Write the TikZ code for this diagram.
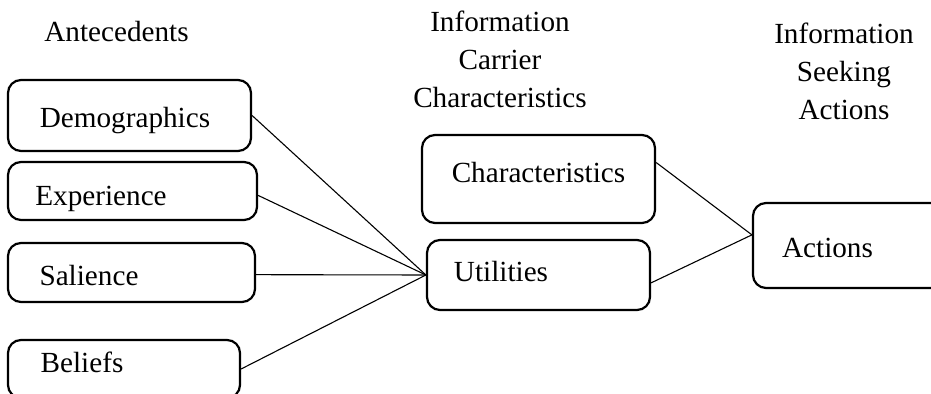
\documentclass[tikz,border=0pt]{standalone}
\usepackage{fontspec}
\setmainfont{Liberation Serif}
\begin{document}
\begin{tikzpicture}[
   x=0.5pt, y=-0.5pt,
   box/.style={draw=black, fill=white, rounded corners=6.5pt, line width=1.1,
               inner sep=0},
   lbl/.style={anchor=base, inner sep=0, font=\fontsize{14.6}{19}\selectfont},
   head/.style={anchor=base, inner sep=0, align=center,
                font=\fontsize{14.6}{19}\selectfont},
   link/.style={draw=black, line width=0.55}
  ]

  % Page size
  \useasboundingbox (0,0) rectangle (931,394);

  % Column headings (base = last line)
  \node (H1) at (116.5, 42) [head] {Antecedents};
  \node (H2) at (500, 108) [head] {Information\\Carrier\\Characteristics};
  \node (H3) at (844, 120) [head] {Information\\Seeking\\Actions};

  % Antecedents
  \node (demo) at (129.5, 115.5) [box, minimum width=121.5pt, minimum height=35.5pt] {};
  \node (exp) at (132.5, 191) [box, minimum width=124.5pt, minimum height=29pt] {};
  \node (sal) at (131.5, 272.5) [box, minimum width=123.5pt, minimum height=29.5pt] {};
  \node (bel) at (124, 369) [box, minimum width=116pt, minimum height=29pt] {};

  % Carrier
  \node (char) at (538.5, 179) [box, minimum width=116.5pt, minimum height=44pt] {};
  \node (util) at (538.5, 275) [box, minimum width=111.5pt, minimum height=35pt] {};

  % Actions
  \node (act) at (853, 245.5) [box, minimum width=100pt, minimum height=42.5pt] {};

  \node (demoT) at (125, 128) [lbl] {Demographics};
  \node (expT) at (101, 206) [lbl] {Experience};
  \node (salT) at (89, 286) [lbl] {Salience};
  \node (belT) at (82, 373) [lbl] {Beliefs};
  \node (charT) at (538.5, 183) [lbl] {Characteristics};
  \node (utilT) at (501, 282) [lbl] {Utilities};
  \node (actT) at (827.5, 258) [lbl] {Actions};

  \foreach \B/\E in {demo.east/util.west, exp.-2/util.west, sal.-1/util.west,
                     bel.east/util.west, char.8/act.174, util.-4/act.174} {
    \draw[link] (\B) -- (\E);
  }

\end{tikzpicture}
\end{document}
